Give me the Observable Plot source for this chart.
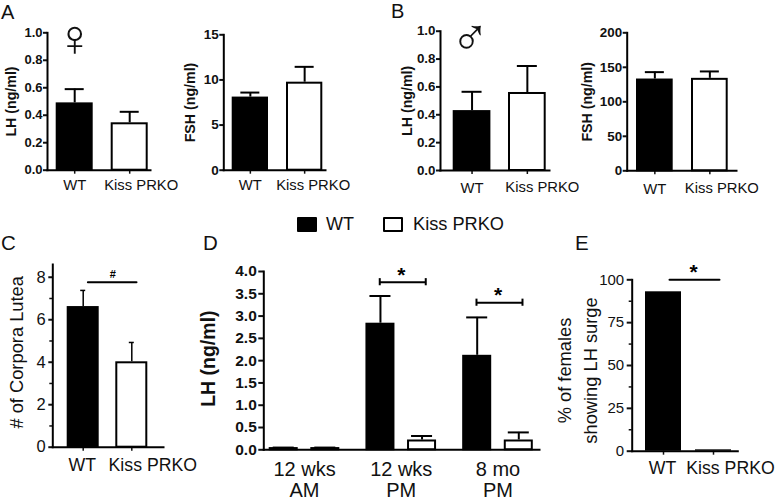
<!DOCTYPE html>
<html>
<head>
<meta charset="utf-8">
<script src="https://cdn.jsdelivr.net/npm/d3@7"></script>
<script src="https://cdn.jsdelivr.net/npm/@observablehq/plot@0.6"></script>
<style>
html,body{margin:0;padding:0;background:#fff}
#root{position:relative;width:777px;height:503px;overflow:hidden;font-family:"Liberation Sans",Arial,sans-serif;color:#111}
#root svg{position:absolute;background:transparent;overflow:visible}
.t{position:absolute;white-space:nowrap;line-height:1}
.sw{position:absolute;box-sizing:border-box;border:2px solid #000;border-radius:1px}
</style>
</head>
<body>
<div id="root"></div>
<script>
const categories = ["WT", "Kiss PRKO"];
const lhFemale = [0.49, 0.345], lhFemaleTop = [0.59, 0.425];
const fshFemale = [8.1, 9.75], fshFemaleTop = [8.6, 11.45];
const lhMale = [0.43, 0.56], lhMaleTop = [0.565, 0.75];
const fshMale = [133, 134], fshMaleTop = [143, 144];
const corpora = [6.62, 4.02], corporaTop = [7.38, 4.93];
const surgePct = [93, 0.8];
const groups = ["12 wks\nAM", "12 wks\nPM", "8 mo\nPM"];
const lhWT = [0.05, 2.84, 2.12], lhWTTop = [0.05, 3.45, 2.97];
const lhKO = [0.05, 0.22, 0.22], lhKOTop = [0.05, 0.31, 0.39];
const lhSig = [null, 3.76, 3.30];

const root = document.getElementById("root");
const SANS = '"Liberation Sans",Arial,sans-serif';

function rows(vals, tops) { return categories.map((c, i) => ({c, v: vals[i], top: tops ? tops[i] : null})); }

function place(svg, left, top) { svg.style.left = left + "px"; svg.style.top = top + "px"; root.appendChild(svg); }

function panel(o) {
  const {box, ax} = o;
  const W = box.r - box.l, H = box.b - box.t;
  const ml = ax.x - box.l, mr = box.r - ax.end, mt = ax.top - box.t, mb = box.b - ax.base;
  const data = rows(o.vals, o.tops);
  const bw = (o.barR2 - o.barL2);
  const fw = o.bold ? "bold" : "normal";
  const gap = o.barL2 - o.barL1 - bw;
  const marks = [
    Plot.axisY({ticks: o.ticks, tickSize: o.tickSize || 4, strokeWidth: 2, tickPadding: o.tickPad || 1, label: null, tickFormat: o.fmt, fontSize: o.tickFont, fontWeight: fw}),
  ];
  if (o.minor) marks.push(Plot.axisY({ticks: o.minor, tickSize: 3, strokeWidth: 1.5, label: null, tickFormat: () => ""}));
  marks.push(Plot.axisX({tickSize: 4, strokeWidth: 1.5, tickFormat: () => "", label: null}));
  if (o.tops) {
    marks.push(Plot.ruleX(data, {x: "c", y1: "v", y2: "top", stroke: "#000", strokeWidth: o.errW || 2}));
    const ins = (bw - (o.capW || 20)) / 2;
    marks.push(Plot.tickY(data, {x: "c", y: "top", insetLeft: ins, insetRight: ins, stroke: "#000", strokeWidth: o.errW || 2}));
  }
  if (o.solid) {
    marks.push(Plot.barY(data, {x: "c", y: "v", fill: "#000"}));
  } else {
    marks.push(Plot.barY(data, {x: "c", y: "v", fill: d => d.c === "WT" ? "#000" : "#fff", stroke: "#000", strokeWidth: 2, insetTop: 1, insetLeft: 1, insetRight: 1}));
  }
  marks.push(Plot.frame({anchor: "left", stroke: "#000", strokeWidth: 2}));
  marks.push(Plot.frame({anchor: "bottom", stroke: "#000", strokeWidth: 2}));
  categories.forEach((c, i) => marks.push(Plot.text([c], {x: d => d, text: d => d, frameAnchor: "bottom", lineAnchor: "middle", dx: o.labelDx[i], dy: o.labelDy[i], fontSize: o.catFont, fill: "#111"})));
  marks.push(Plot.text([o.title], {text: d => d, frameAnchor: "left", textAnchor: "middle", lineAnchor: "middle", rotate: -90, dx: o.titleX - ax.x, dy: o.titleDy || 0, fontSize: o.titleFont, fontWeight: fw, fill: "#111", lineHeight: o.titleLH || 1}));
  if (o.sig) {
    marks.push(Plot.line(categories.map(c => ({c, y: o.sig.y})), {x: "c", y: "y", dx: o.sig.dx, stroke: "#000", strokeWidth: 2}));
    marks.push(Plot.text([o.sig.text], {x: () => "WT", y: () => o.sig.y, text: d => d, dx: o.sig.tx, dy: o.sig.ty, fontSize: o.sig.size, fontWeight: "bold", fill: "#000"}));
  }
  const svg = Plot.plot({
    width: W, height: H, marginLeft: ml, marginRight: mr, marginTop: mt, marginBottom: mb,
    style: {fontFamily: SANS, background: "transparent", color: "#111", overflow: "visible"},
    x: {type: "band", domain: categories, range: [o.barL1 - box.l, o.barR2 - box.l], paddingInner: gap / (gap + bw), paddingOuter: 0, round: false, axis: null},
    y: {domain: o.domain, axis: null},
    marks
  });
  place(svg, box.l, box.t);
}

function fix(v) { return d3.format(".1f")(v); }

panel({box: {l: 0, r: 172, t: 20, b: 200}, ax: {x: 47, end: 150, top: 32.3, base: 169.7},
  vals: lhFemale, tops: lhFemaleTop, domain: [0, 1], ticks: [0, .2, .4, .6, .8, 1], fmt: fix, bold: true, tickFont: 13,
  barL1: 55.7, barL2: 110.7, barR2: 147.7, catFont: 14.8, labelDx: [0, 11.5], labelDy: [15, 15],
  title: "LH (ng/ml)", titleX: 11, titleFont: 14.2, capW: 19});
panel({box: {l: 176, r: 356, t: 20, b: 200}, ax: {x: 223.3, end: 325, top: 34.3, base: 169.7},
  vals: fshFemale, tops: fshFemaleTop, domain: [0, 15], ticks: [0, 5, 10, 15], fmt: d => d, bold: true, tickFont: 13.5,
  barL1: 231.7, barL2: 286, barR2: 322.3, catFont: 14.8, labelDx: [0, 8.5], labelDy: [15, 15],
  title: "FSH (ng/ml)", titleX: 190, titleFont: 14.2, capW: 19});
panel({box: {l: 396, r: 584, t: 20, b: 200}, ax: {x: 440, end: 549, top: 30.7, base: 170},
  vals: lhMale, tops: lhMaleTop, domain: [0, 1], ticks: [0, .2, .4, .6, .8, 1], fmt: fix, bold: true, tickFont: 13.4,
  barL1: 452.7, barL2: 508, barR2: 545.7, catFont: 14.8, labelDx: [0, 15], labelDy: [18, 17],
  title: "LH (ng/ml)", titleX: 407, titleFont: 14.2, capW: 20});
panel({box: {l: 584, r: 777, t: 20, b: 200}, ax: {x: 626.7, end: 736, top: 32.3, base: 170.3},
  vals: fshMale, tops: fshMaleTop, domain: [0, 200], ticks: [0, 50, 100, 150, 200], fmt: d => d, bold: true, tickFont: 13.4,
  barL1: 636, barL2: 691, barR2: 727.7, catFont: 14.8, labelDx: [0, 12], labelDy: [18, 17],
  title: "FSH (ng/ml)", titleX: 587, titleFont: 14.2, capW: 19});
panel({box: {l: 0, r: 198, t: 255, b: 490}, ax: {x: 52.3, end: 163, top: 264, base: 446.7},
  vals: corpora, tops: corporaTop, domain: [0, 8.6], ticks: [0, 2, 4, 6, 8], minor: [1, 3, 5, 7], fmt: d => d, tickFont: 16.5, tickSize: 4, tickPad: 3,
  barL1: 66.7, barL2: 115.3, barR2: 147.3, catFont: 17.7, labelDx: [-1, 21], labelDy: [18, 18],
  title: "# of Corpora Lutea", titleX: 17, titleFont: 18.3, titleDy: -3.5, capW: 5, errW: 1.5,
  sig: {y: 7.76, dx: 4.7, text: "#", tx: 29.5, ty: -8, size: 11}});
panel({box: {l: 552, r: 777, t: 258, b: 490}, ax: {x: 631.7, end: 737.3, top: 279.3, base: 450.7},
  vals: surgePct, tops: null, solid: true, domain: [0, 100], ticks: [0, 25, 50, 75, 100], minor: [12.5, 37.5, 62.5, 87.5], fmt: d => d, tickFont: 15, tickSize: 5, tickPad: 3,
  barL1: 645, barL2: 695, barR2: 731, catFont: 17.7, labelDx: [-1, 17], labelDy: [17, 17],
  title: "% of females\nshowing LH surge", titleX: 575, titleFont: 18.3, titleLH: 1.42, titleDy: 5,
  sig: {y: 100, dx: 6, text: "*", tx: 30, ty: -8, size: 21}});

// Panel D: three age groups, two bars in each
(function () {
  const box = {l: 198, r: 552, t: 258, b: 503};
  const ax = {x: 263.3, end: 539, top: 271, base: 449.3};
  const recs = groups.map((g, i) => ({g, wt: lhWT[i], wtTop: lhWTTop[i], ko: lhKO[i], koTop: lhKOTop[i], sig: lhSig[i]}));
  const sigRecs = recs.filter(d => d.sig != null);
  const off = 20.8, half = 23, capIns = 4;
  const series = [["wt", "wtTop", -off, "#000"], ["ko", "koTop", off, "#fff"]];
  const marks = [
    Plot.axisY({ticks: d3.range(0, 4.5, .5), tickSize: 5, strokeWidth: 2, tickPadding: 2, label: null, tickFormat: fix, fontSize: 15.5, fontWeight: "bold"}),
    Plot.axisX({tickSize: 0, label: null, tickPadding: 11, fontSize: 20, lineHeight: 1.05, fill: "#111"})
  ];
  series.forEach(([v, t, dx, fill]) => {
    marks.push(Plot.ruleX(recs, {x: "g", y1: v, y2: t, dx, stroke: "#000", strokeWidth: 2}));
    marks.push(Plot.tickY(recs, {x: "g", y: t, dx, insetLeft: capIns, insetRight: capIns, stroke: "#000", strokeWidth: 2}));
    marks.push(Plot.barY(recs, {x: "g", y: v, dx, fill: d => d[v] < .1 ? "#000" : fill, stroke: "#000", strokeWidth: 2, insetTop: 1, insetLeft: 1, insetRight: 1}));
  });
  marks.push(Plot.frame({anchor: "left", stroke: "#000", strokeWidth: 2}));
  marks.push(Plot.frame({anchor: "bottom", stroke: "#000", strokeWidth: 2}));
  marks.push(Plot.tickY(sigRecs, {x: "g", y: "sig", dx: 1.5, insetLeft: -8.5, insetRight: -8.5, stroke: "#000", strokeWidth: 2}));
  [-half, half].forEach(e => {
    marks.push(Plot.ruleX(sigRecs, {x: "g", y1: d => d.sig - .08, y2: d => d.sig + .08, dx: 1.5 + e, stroke: "#000", strokeWidth: 2}));
  });
  marks.push(Plot.text(sigRecs, {x: "g", y: "sig", text: () => "*", dx: 0, dy: -7, fontSize: 21, fontWeight: "bold", fill: "#000"}));
  marks.push(Plot.text(["LH (ng/ml)"], {text: d => d, frameAnchor: "left", textAnchor: "middle", lineAnchor: "middle", rotate: -90, dx: 208 - ax.x, dy: -2, fontSize: 19.5, fontWeight: "bold", fill: "#111"}));
  const svg = Plot.plot({
    width: box.r - box.l, height: box.b - box.t,
    marginLeft: ax.x - box.l, marginRight: box.r - ax.end, marginTop: ax.top - box.t, marginBottom: box.b - ax.base,
    style: {fontFamily: SANS, background: "transparent", color: "#111", overflow: "visible"},
    x: {type: "band", domain: groups, range: [289.5 - box.l, 512 - box.l], paddingInner: 0.7, paddingOuter: 0, round: false, axis: null},
    y: {domain: [0, 4], axis: null},
    marks
  });
  place(svg, box.l, box.t);
})();

// Legend, panel letters and sex symbols
function text(s, x, y, size, extra) {
  const d = document.createElement("div");
  d.className = "t"; d.textContent = s;
  d.style.left = x + "px"; d.style.top = y + "px"; d.style.fontSize = size + "px";
  Object.assign(d.style, extra || {});
  root.appendChild(d);
}
function swatch(x, y, w, h, bg) {
  const d = document.createElement("div");
  d.className = "sw"; d.style.cssText = `left:${x}px;top:${y}px;width:${w}px;height:${h}px;background:${bg}`;
  root.appendChild(d);
}
swatch(297, 217, 20, 15, "#000");
swatch(383, 217, 20, 15, "#fff");
text("WT", 326, 215, 18);
text("Kiss PRKO", 413, 215, 18.2);
text("A", 1, 2, 20);
text("B", 391, 1, 20);
text("C", 1, 233, 20.5);
text("D", 203, 233, 20.5);
text("E", 575, 233, 20.5);
text("\u2640", 55.3, 11.5, 52);
text("\u2642", 450.5, 10.5, 52);
</script>
</body>
</html>
